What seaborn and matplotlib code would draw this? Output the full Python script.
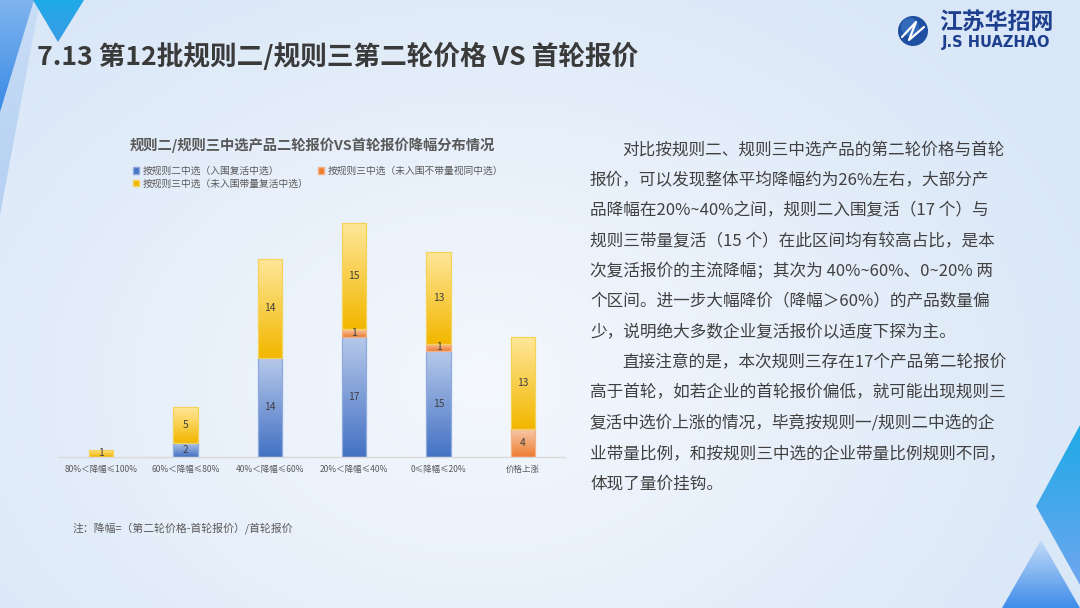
import numpy as np
import pandas as pd
import matplotlib
matplotlib.use("Agg")
import matplotlib.pyplot as plt
from matplotlib.colors import LinearSegmentedColormap, to_rgb
from matplotlib.patches import Polygon, Circle, Patch
import seaborn as sns

# ---- data ----
categories = ["80%＜降幅≤100%", "60%＜降幅≤80%", "40%＜降幅≤60%",
              "20%＜降幅≤40%", "0≤降幅≤20%", "价格上涨"]
rule2_revived = [0, 2, 14, 17, 15, 0]       # 按规则二中选（入围复活中选）
rule3_no_volume = [0, 0, 0, 1, 1, 4]        # 按规则三中选（未入围不带量视同中选）
rule3_volume = [1, 5, 14, 15, 13, 13]       # 按规则三中选（未入围带量复活中选）
series_names = ["按规则二中选（入围复活中选）",
                "按规则三中选（未入围不带量视同中选）",
                "按规则三中选（未入围带量复活中选）"]

slide_title = "7.13 第12批规则二/规则三第二轮价格 VS 首轮报价"
chart_title = "规则二/规则三中选产品二轮报价VS首轮报价降幅分布情况"
footnote = "注：降幅=（第二轮价格-首轮报价）/首轮报价"
paragraph = [
    (True, "对比按规则二、规则三中选产品的第二轮价格与首轮"),
    (False, "报价，可以发现整体平均降幅约为26%左右，大部分产"),
    (False, "品降幅在20%~40%之间，规则二入围复活（17 个）与"),
    (False, "规则三带量复活（15 个）在此区间均有较高占比，是本"),
    (False, "次复活报价的主流降幅；其次为 40%~60%、0~20% 两"),
    (False, "个区间。进一步大幅降价（降幅＞60%）的产品数量偏"),
    (False, "少，说明绝大多数企业复活报价以适度下探为主。"),
    (True, "直接注意的是，本次规则三存在17个产品第二轮报价"),
    (False, "高于首轮，如若企业的首轮报价偏低，就可能出现规则三"),
    (False, "复活中选价上涨的情况，毕竟按规则一/规则二中选的企"),
    (False, "业带量比例，和按规则三中选的企业带量比例规则不同，"),
    (False, "体现了量价挂钩。"),
]

# (top colour, bottom colour, edge colour) per series
styles = [("#B7C9EA", "#4472C4", "#8EA9DB"),
          ("#F8CBAD", "#ED7D31", "#F4B183"),
          ("#FFE79A", "#F2B700", "#F5D35A")]

sns.set_theme(style="white")
plt.rcParams["font.family"] = ["Noto Sans CJK SC", "DejaVu Sans"]

W, H = 1080, 608
fig = plt.figure(figsize=(W / 100, H / 100), dpi=100)

# ---- background ----
bg = fig.add_axes([0, 0, 1, 1], zorder=-10)
bg.set_xlim(0, W)
bg.set_ylim(H, 0)
bg.axis("off")
yy, xx = np.mgrid[0:H:4, 0:W:4]
d = np.sqrt(((xx - 480) / 700.0) ** 2 + ((yy - 380) / 520.0) ** 2)
d = np.clip(d, 0, 1)[..., None]
c_in = np.array(to_rgb("#F4F8FD"))
c_out = np.array(to_rgb("#D8E6F7"))
bg.imshow(c_in * (1 - d) + c_out * d, extent=(0, W, H, 0), aspect="auto", zorder=0)


def grad_poly(ax, pts, top, bottom, z=1, alpha=1.0):
    poly = Polygon(pts, closed=True, facecolor="none", edgecolor="none", zorder=z)
    ax.add_patch(poly)
    ys = [p[1] for p in pts]
    xs = [p[0] for p in pts]
    cmap = LinearSegmentedColormap.from_list("g", [top, bottom])
    im = ax.imshow(np.linspace(0, 1, 64)[:, None], cmap=cmap, aspect="auto",
                   extent=(min(xs), max(xs), max(ys), min(ys)), zorder=z, alpha=alpha)
    im.set_clip_path(poly)


# top-left decorations
grad_poly(bg, [(0, 0), (40, 0), (0, 215)], "#C9DDF6", "#B4D0F3", z=1)
grad_poly(bg, [(0, 0), (34, 0), (0, 112)], "#7FB4EE", "#3A8BE6", z=2)
grad_poly(bg, [(33, 0), (84, 0), (58, 42)], "#1FAAE6", "#3A9BE6", z=3)
# bottom-right decorations
grad_poly(bg, [(1080, 425), (1036, 506), (1080, 585)], "#1FAAE6", "#6EA6F0", z=2)
grad_poly(bg, [(1041, 540), (1002, 608), (1080, 608)], "#C3DBF7", "#3F8DEA", z=3)

# logo
bg.add_patch(Circle((913, 31), 15, facecolor="#1F4FA0", edgecolor="none", zorder=4))
bg.add_patch(Circle((910, 27), 9, facecolor="#3F7FD0", edgecolor="none", zorder=4, alpha=0.6))
bg.plot([902, 916, 909, 924], [37, 22, 40, 27], color="white", lw=1.6, zorder=5)
bg.text(996, 22, "江苏华招网", ha="center", va="center", fontsize=16.5,
        fontweight="bold", color="#1E3F8E", zorder=5)
bg.text(996, 42, "J.S HUAZHAO", ha="center", va="center", fontsize=10.5,
        fontweight="bold", color="#1E3F8E", family=["DejaVu Sans"], zorder=5)

# slide title
bg.text(37, 57, slide_title, ha="left", va="center", fontsize=19.2,
        fontweight="bold", color="#3A3A3A", zorder=5)

# chart title, footnote
bg.text(312, 145, chart_title, ha="center", va="center", fontsize=10.3,
        fontweight="bold", color="#595959", zorder=5)
bg.text(73, 528, footnote, ha="left", va="center", fontsize=7.8,
        color="#595959", zorder=5)

# paragraph
for i, (indent, line) in enumerate(paragraph):
    bg.text(622 if indent else 590, 150.5 + i * 30.3, line, ha="left", va="center",
            fontsize=12, color="#404040", zorder=5)

# ---- stacked bar chart ----
ax = fig.add_axes([59 / W, (H - 457) / H, 506 / W, 248 / H])
ax.patch.set_alpha(0)
df = pd.DataFrame({"cat": categories, "r2": rule2_revived,
                   "r3n": rule3_no_volume, "r3v": rule3_volume})
layers = [df["r2"].to_numpy(), df["r3n"].to_numpy(), df["r3v"].to_numpy()]
bottom = np.zeros(len(categories))
for k, vals in enumerate(layers):
    top_c, bot_c, edge_c = styles[k]
    n_before = len(ax.patches)
    sns.barplot(data=df.assign(v=vals), x="cat", y="v", order=categories,
                color=bot_c, width=0.29, bottom=bottom, ax=ax,
                label=series_names[k], zorder=3)
    cmap = LinearSegmentedColormap.from_list("b%d" % k, [top_c, bot_c])
    for p, v, b in zip(ax.patches[n_before:], vals, bottom):
        if v <= 0:
            p.set_visible(False)
            continue
        p.set_facecolor("none")
        p.set_edgecolor(edge_c)
        p.set_linewidth(0.9)
        x0, y0, w, h = p.get_x(), p.get_y(), p.get_width(), p.get_height()
        im = ax.imshow(np.linspace(0, 1, 64)[:, None], cmap=cmap, aspect="auto",
                       extent=(x0, x0 + w, y0, y0 + h), origin="upper", zorder=2)
        im.set_clip_path(p)
        ax.text(x0 + w / 2, b + v / 2, str(v), ha="center", va="center",
                fontsize=7.4, color="#404040", zorder=4)
    bottom = bottom + vals

ax.set_xlim(-0.5, len(categories) - 0.5)
ax.set_ylim(0, 35)
ax.set_xlabel("")
ax.set_ylabel("")
ax.set_yticks([])
ax.tick_params(axis="x", length=0, pad=6, labelsize=6.1, labelcolor="#595959")
for s in ["top", "left", "right"]:
    ax.spines[s].set_visible(False)
ax.spines["bottom"].set_color("#D9D9D9")
ax.spines["bottom"].set_linewidth(1.0)

# legend
handles = [Patch(facecolor=styles[k][1], edgecolor=styles[k][2]) for k in range(3)]
order = [0, 2, 1]
leg = ax.legend([handles[i] for i in order], [series_names[i] for i in order],
                ncol=2, loc="upper left", bbox_to_anchor=(133 / W, (H - 166) / H),
                bbox_transform=fig.transFigure, frameon=False, fontsize=7.0,
                handlelength=0.6, handleheight=0.6, handletextpad=0.4,
                columnspacing=1.0, labelspacing=0.25, borderpad=0, borderaxespad=0)
for t in leg.get_texts():
    t.set_color("#595959")

fig.savefig("out.png", dpi=100)
